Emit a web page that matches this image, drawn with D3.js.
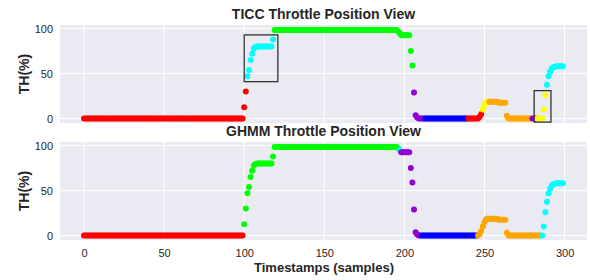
<!DOCTYPE html>
<html>
<head>
<meta charset="utf-8">
<script src="https://cdn.jsdelivr.net/npm/d3@7"></script>
<style>
  body { margin: 0; background: #fff; }
  text { font-family: "Liberation Sans", Arial, sans-serif; }
</style>
</head>
<body>
<svg></svg>
<script>
// throttle position (%) per sample, samples 0..299
var throttle = [
  // 0-99
  0,0,0,0,0,0,0,0,0,0, 0,0,0,0,0,0,0,0,0,0,
  0,0,0,0,0,0,0,0,0,0, 0,0,0,0,0,0,0,0,0,0,
  0,0,0,0,0,0,0,0,0,0, 0,0,0,0,0,0,0,0,0,0,
  0,0,0,0,0,0,0,0,0,0, 0,0,0,0,0,0,0,0,0,0,
  0,0,0,0,0,0,0,0,0,0, 0,0,0,0,0,0,0,0,0,0,
  // 100-118
  12.5,30,47,54,65,72,78,79.5,80,80, 80,80,80,80,80,80,80,80,88,
  // 119-195
  98.5,98.5,98.5,98.5,98.5,98.5,98.5,98.5,98.5,98.5, 98.5,98.5,98.5,98.5,98.5,98.5,98.5,98.5,98.5,98.5,
  98.5,98.5,98.5,98.5,98.5,98.5,98.5,98.5,98.5,98.5, 98.5,98.5,98.5,98.5,98.5,98.5,98.5,98.5,98.5,98.5,
  98.5,98.5,98.5,98.5,98.5,98.5,98.5,98.5,98.5,98.5, 98.5,98.5,98.5,98.5,98.5,98.5,98.5,98.5,98.5,98.5,
  98.5,98.5,98.5,98.5,98.5,98.5,98.5,98.5,98.5,98.5, 98.5,98.5,98.5,98.5,98.5,98.5,98.5,
  // 196-208
  97,95,92.5,92.5,92.5,92.5,92.5,92.5,75,59, 29,3.5,1,
  // 209-246
  0,0,0,0,0,0,0,0,0,0, 0,0,0,0,0,0,0,0,0,0,
  0,0,0,0,0,0,0,0,0,0, 0,0,0,0,0,0,0,0,
  // 247-264
  2,5,10,15,18,19,18.5,18.5,18.5,18.5, 18.5,18.5,17.5,17.5,17.5,17.5,17.5,3,
  // 265-286
  0,0,0,0,0,0,0,0,0,0, 0,0,0,0,0,0,0,0,0,0, 0,0,
  // 287-299
  10,26,37.5,47,52,55.5,57,57.5,58,58, 58,58,58
];

// state segments [first sample, last sample, state colour]
var ticcStates = [
  [0, 101, "red"], [102, 118, "cyan"], [119, 205, "green"], [206, 212, "purple"],
  [213, 239, "blue"], [240, 248, "red"], [249, 252, "yellow"], [253, 279, "orange"],
  [280, 282, "purple"], [283, 288, "yellow"], [289, 299, "cyan"]
];
var ghmmStates = [
  [0, 99, "red"], [100, 196, "green"], [197, 197, "cyan"], [198, 210, "purple"],
  [211, 245, "blue"], [246, 285, "orange"], [286, 299, "cyan"]
];

// highlight boxes on the TICC view [x0, x1, y0, y1]
var ticcBoxes = [[100, 121, 41, 93], [281, 291.5, -4, 31]];

var xTicks = [0, 50, 100, 150, 200, 250, 300];
var yTicks = [0, 50, 100];

var stateColor = {
  red: "#ff0000", cyan: "#00ffff", green: "#00ff00", purple: "#9400d3",
  blue: "#0000ff", yellow: "#ffff00", orange: "#ffa500"
};

var svgWidth = 590;
var svgHeight = 280;

var svg = d3.select("svg")
  .attr("width", svgWidth)
  .attr("height", svgHeight);

var x = d3.scaleLinear().domain([-15, 314]).range([60, 587]);

function labelFor(states, i) {
  for (var k = 0; k < states.length; k++) {
    if (i >= states[k][0] && i <= states[k][1]) return states[k][2];
  }
  return "red";
}

function drawPanel(top, bottom, title, states, boxes, showX) {
  var y = d3.scaleLinear().domain([-5, 104]).range([bottom, top]);
  var g = svg.append("g");

  g.append("rect")
    .attr("x", x.range()[0])
    .attr("y", top)
    .attr("width", x.range()[1] - x.range()[0])
    .attr("height", bottom - top)
    .attr("fill", "#eaeaf2");

  g.selectAll(".vgrid")
    .data(xTicks)
    .enter()
    .append("line")
    .attr("x1", function(d) { return x(d); })
    .attr("x2", function(d) { return x(d); })
    .attr("y1", top)
    .attr("y2", bottom)
    .attr("stroke", "#fff")
    .attr("stroke-width", 1);

  g.selectAll(".hgrid")
    .data(yTicks)
    .enter()
    .append("line")
    .attr("x1", x.range()[0])
    .attr("x2", x.range()[1])
    .attr("y1", function(d) { return y(d); })
    .attr("y2", function(d) { return y(d); })
    .attr("stroke", "#fff")
    .attr("stroke-width", 1);

  g.selectAll("circle")
    .data(throttle)
    .enter()
    .append("circle")
    .attr("cx", function(d, i) { return x(i); })
    .attr("cy", function(d) { return y(d); })
    .attr("r", 3)
    .attr("fill", function(d, i) { return stateColor[labelFor(states, i)]; });

  g.selectAll(".box")
    .data(boxes)
    .enter()
    .append("rect")
    .attr("x", function(d) { return x(d[0]); })
    .attr("y", function(d) { return y(d[3]); })
    .attr("width", function(d) { return x(d[1]) - x(d[0]); })
    .attr("height", function(d) { return y(d[2]) - y(d[3]); })
    .attr("fill", "none")
    .attr("stroke", "#333")
    .attr("stroke-width", 1.3);

  var yAxis = g.append("g")
    .attr("transform", "translate(" + x.range()[0] + ",0)")
    .call(d3.axisLeft(y).tickValues(yTicks).tickSize(0).tickPadding(7));
  yAxis.select(".domain").remove();
  yAxis.selectAll("text")
    .attr("font-size", 11)
    .attr("font-family", "Liberation Sans, Arial, sans-serif")
    .attr("fill", "#262626");

  if (showX) {
    var xAxis = g.append("g")
      .attr("transform", "translate(0," + bottom + ")")
      .call(d3.axisBottom(x).tickValues(xTicks).tickSize(0).tickPadding(9));
    xAxis.select(".domain").remove();
    xAxis.selectAll("text")
      .attr("font-size", 11)
      .attr("font-family", "Liberation Sans, Arial, sans-serif")
      .attr("fill", "#262626");
  }

  g.append("text")
    .attr("x", (x.range()[0] + x.range()[1]) / 2)
    .attr("y", top - 6)
    .attr("text-anchor", "middle")
    .attr("font-size", 14)
    .attr("font-weight", "bold")
    .attr("fill", "#262626")
    .text(title);

  g.append("text")
    .attr("transform", "translate(29," + (top + bottom) / 2 + ") rotate(-90)")
    .attr("text-anchor", "middle")
    .attr("font-size", 14)
    .attr("font-weight", "bold")
    .attr("fill", "#262626")
    .text("TH(%)");
}

drawPanel(25, 123, "TICC Throttle Position View", ticcStates, ticcBoxes, false);
drawPanel(142, 240, "GHMM Throttle Position View", ghmmStates, [], true);

svg.append("text")
  .attr("x", 324)
  .attr("y", 272)
  .attr("text-anchor", "middle")
  .attr("font-size", 13)
  .attr("font-weight", "bold")
  .attr("fill", "#262626")
  .text("Timestamps (samples)");
</script>
</body>
</html>
